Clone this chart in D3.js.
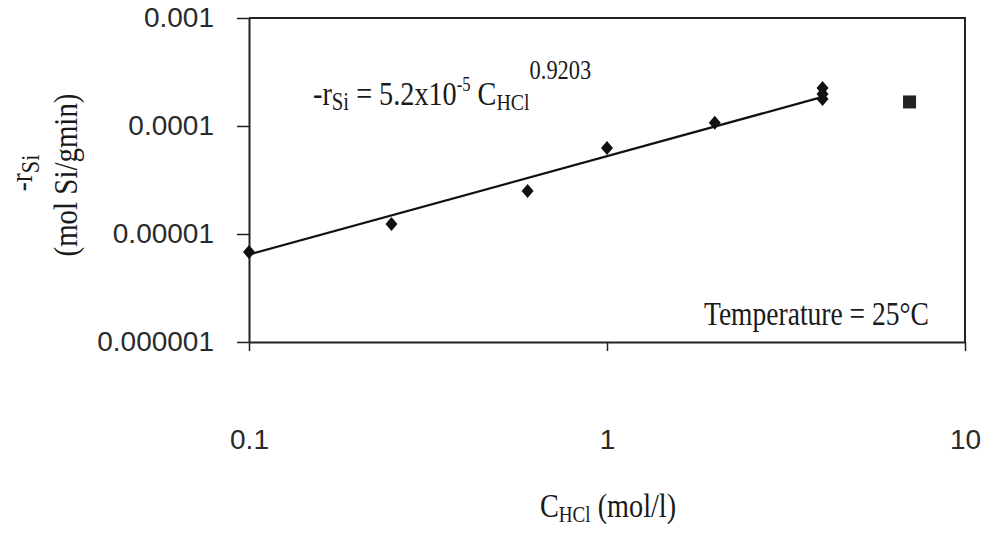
<!DOCTYPE html>
<html>
<head>
<meta charset="utf-8">
<script src="https://cdn.jsdelivr.net/npm/d3@7"></script>
<style>
  html, body { margin: 0; padding: 0; background: #fff; }
  svg { display: block; }
  .serif { font-family: "Liberation Serif", "Times New Roman", serif; fill: #1a1a1a; }
  .tick text { font-family: "Liberation Sans", Arial, sans-serif; font-size: 28px; fill: #2a2a2a; }
</style>
</head>
<body>
<svg id="chart" width="990" height="540"></svg>
<script>
// ---- data ----
const concentration = [0.1, 0.25, 0.6, 1, 2, 4, 4, 4];          // C_HCl (mol/l), diamonds
const rate = [6.8e-6, 1.24e-5, 2.5e-5, 6.25e-5, 1.07e-4, 2.25e-4, 1.98e-4, 1.78e-4]; // -r_Si
const outlierConcentration = [7];                               // square marker
const outlierRate = [1.67e-4];
const fitConcentration = [0.1, 4];                              // trend line ends
const fitRate = [6.45e-6, 1.86e-4];
const xTickValues = [0.1, 1, 10];
const xTickLabels = ["0.1", "1", "10"];
const yTickValues = [1e-3, 1e-4, 1e-5, 1e-6];
const yTickLabels = ["0.001", "0.0001", "0.00001", "0.000001"];

const svg = d3.select("#chart");
const m = { left: 249, right: 965, top: 18, bottom: 342 };

const x = d3.scaleLog().domain([0.1, 10]).range([m.left, m.right]);
const y = d3.scaleLog().domain([1e-6, 1e-3]).range([m.bottom, m.top]);

const stroke = "#222";

// axes
const yAxis = d3.axisLeft(y).tickValues(yTickValues)
  .tickFormat((d, i) => yTickLabels[i]).tickSize(12).tickSizeOuter(0).tickPadding(23);
const gy = svg.append("g").attr("transform", `translate(${m.left},0)`).call(yAxis);

const xAxis = d3.axisBottom(x).tickValues(xTickValues)
  .tickFormat((d, i) => xTickLabels[i]).tickSize(9).tickSizeOuter(0).tickPadding(78);
const gx = svg.append("g").attr("transform", `translate(0,${m.bottom})`).call(xAxis);

[gx, gy].forEach(g => {
  g.select(".domain").attr("stroke", stroke).attr("stroke-width", 2);
  g.selectAll(".tick line").attr("stroke", stroke).attr("stroke-width", 1.5);
});

// frame top & right
svg.append("path")
  .attr("d", `M${m.left},${m.top}H${m.right}V${m.bottom}`)
  .attr("fill", "none").attr("stroke", stroke).attr("stroke-width", 2);

// trend line
const fitData = fitConcentration.map((c, i) => [c, fitRate[i]]);
svg.append("path")
  .datum(fitData)
  .attr("d", d3.line().x(d => x(d[0])).y(d => y(d[1])))
  .attr("fill", "none").attr("stroke", "#111").attr("stroke-width", 2.2);

// diamonds
const pts = concentration.map((c, i) => [c, rate[i]]);
svg.append("g").selectAll("path").data(pts).join("path")
  .attr("transform", d => `translate(${x(d[0])},${y(d[1])})`)
  .attr("d", "M0,-7L6,0L0,7L-6,0Z")
  .attr("fill", "#111");

// square
const sq = outlierConcentration.map((c, i) => [c, outlierRate[i]]);
svg.append("g").selectAll("rect").data(sq).join("rect")
  .attr("x", d => x(d[0]) - 6.5).attr("y", d => y(d[1]) - 6.5)
  .attr("width", 13).attr("height", 13).attr("fill", "#222");

// condensed serif text helper (Times-like, narrow as in the reference)
function serif(tx, ty, sx, rot, size) {
  const g = svg.append("g")
    .attr("transform", `translate(${tx},${ty})` + (rot ? ` rotate(${rot})` : "") + ` scale(${sx},1)`);
  return g.append("text").attr("class", "serif").attr("font-size", size);
}

// equation
const eq = serif(313, 105, 0.83, 0, 34);
eq.append("tspan").text("-r");
eq.append("tspan").attr("font-size", 25).attr("dy", 5).text("Si");
eq.append("tspan").attr("dy", -5).text(" = 5.2x10");
eq.append("tspan").attr("font-size", 20).attr("dy", -14).text("-5");
eq.append("tspan").attr("dy", 14).text(" C");
eq.append("tspan").attr("font-size", 24).attr("dy", 5).text("HCl");
eq.append("tspan").attr("font-size", 27).attr("dy", -31).text("0.9203");

// temperature note
serif(704, 325, 0.81, 0, 34).text("Temperature = 25°C");

// x title
const xt = serif(540, 517, 0.83, 0, 34);
xt.append("tspan").text("C");
xt.append("tspan").attr("font-size", 23).attr("dy", 5).text("HCl");
xt.append("tspan").attr("dy", -5).text(" (mol/l)");

// y title
const yt1 = serif(32, 173, 0.85, -90, 32).attr("text-anchor", "middle");
yt1.append("tspan").text("-r");
yt1.append("tspan").attr("font-size", 26).attr("dy", 7).text("Si");

serif(77, 175, 0.85, -90, 34).attr("text-anchor", "middle").text("(mol Si/gmin)");
</script>
</body>
</html>
